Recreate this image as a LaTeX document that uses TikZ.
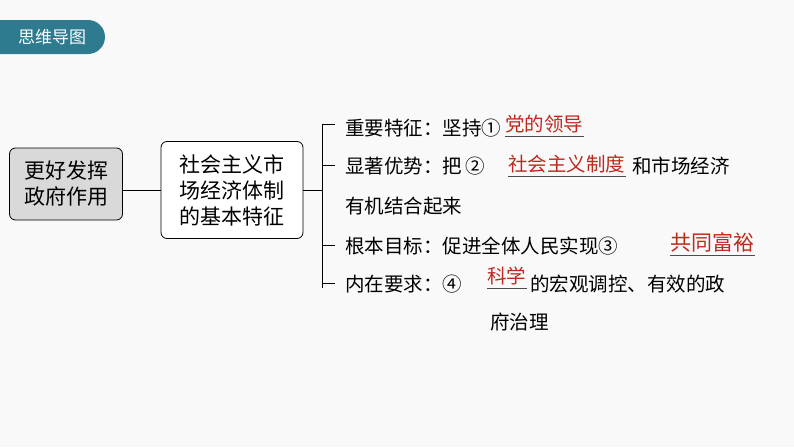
\documentclass[tikz,border=0pt]{standalone}
\usepackage{fontspec}
\setmainfont{Noto Sans CJK SC}
\usetikzlibrary{positioning}
\definecolor{badge}{HTML}{2E7B90}
\definecolor{ans}{HTML}{C0281E}
\tikzset{
  txt/.style={anchor=west, inner sep=0pt, font=\fontsize{19.5}{22}\selectfont},
  fill in/.style={txt, text=ans},
  topic/.style={draw, rounded corners=6pt, align=center, inner sep=4pt,
    font=\fontsize{21}{26}\selectfont, thick}
}
\begin{document}
\begin{tikzpicture}[x=1pt, y=-1pt, line width=0.8pt]
  \fill[white!95!gray] (0,0) rectangle (794,447);
  \useasboundingbox (0,0) rectangle (794,447);
  \fill[badge] (0,20) -- (88,20) arc (-90:90:17) -- (0,54) -- cycle;
  \node[font=\fontsize{17}{19}\selectfont, text=white] (badge) at (52,37) {思维导图};

  \node[topic, fill=gray!30, minimum width=113, minimum height=72] (gov) at (66,184) {更好发挥\\政府作用};
  \node[topic, fill=white, minimum width=142, minimum height=97] (core) at (232,190) {社会主义市\\场经济体制\\的基本特征};
  \coordinate (fork) at (322,190);
  \draw (gov.east |- core) -- (core);
  \draw (core.east |- fork) -- (fork);
  \draw (fork |- 0,124) -- (335,124) (fork |- 0,124) -- (fork |- 0,288);
  \foreach \y in {165,245,283} \draw (fork |- 0,\y) -- (335,\y);

  % branches
  \node[txt] (t1) at (345,128) {重要特征：坚持①};
  \node[fill in] (a1) at (505,124) {党的领导};
  \node[txt] (t2) at (345,166) {显著优势：把\,②};
  \node[fill in] (a2) at (508,164) {社会主义制度};
  \node[txt] (t2b) at (632,166) {和市场经济};
  \node[txt] (t2c) at (345,206) {有机结合起来};
  \node[txt] (t3) at (345,246) {根本目标：促进全体人民实现③};
  \node[fill in, font=\fontsize{21}{24}\selectfont] (a3) at (670,242) {共同富裕};
  \node[txt] (t4) at (345,284) {内在要求：④};
  \node[fill in] (a4) at (487,276) {科学};
  \node[txt] (t4b) at (530,284) {的宏观调控、有效的政};
  \node[txt] (t4c) at (490,322) {府治理};
  \foreach \a in {a1,a2,a3,a4}
    \draw[gray!60!black, line width=0.6pt] ([yshift=-3pt]\a.south west) -- ([yshift=-3pt]\a.south east);
\end{tikzpicture}
\end{document}
